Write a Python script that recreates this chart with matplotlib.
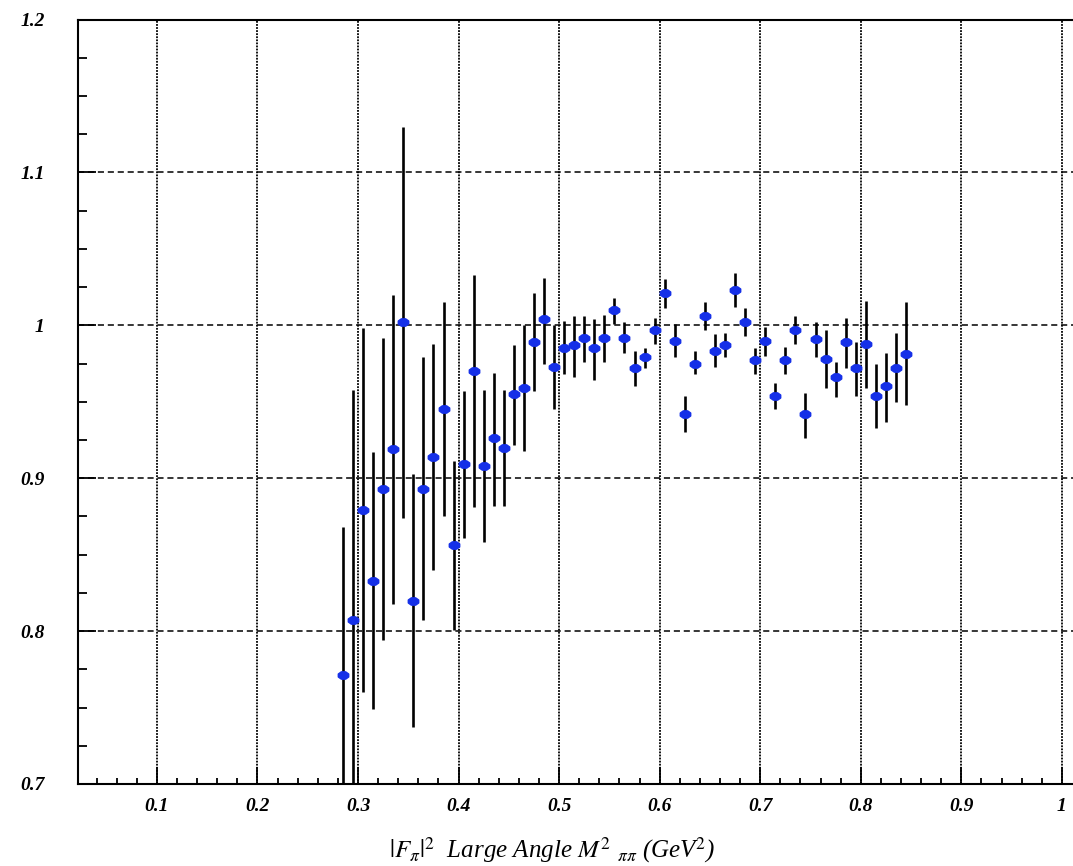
import numpy as np
import matplotlib
matplotlib.use("Agg")
import matplotlib.pyplot as plt
from matplotlib.path import Path
from matplotlib.ticker import MultipleLocator, FixedLocator

plt.rcParams["mathtext.fontset"] = "stix"

# ---- data ----
x = [0.285 + 0.01 * i for i in range(57)]
y = [0.771, 0.807, 0.879, 0.833, 0.893, 0.919, 1.002, 0.820, 0.893, 0.914,
     0.945, 0.856, 0.909, 0.970, 0.908, 0.926, 0.920, 0.955, 0.959, 0.989,
     1.004, 0.973, 0.985, 0.987, 0.992, 0.985, 0.992, 1.010, 0.992, 0.972,
     0.979, 0.997, 1.021, 0.990, 0.942, 0.975, 1.006, 0.983, 0.987, 1.023,
     1.002, 0.977, 0.990, 0.954, 0.977, 0.997, 0.942, 0.991, 0.978, 0.966,
     0.989, 0.972, 0.988, 0.954, 0.960, 0.972, 0.981]
y_hi = [0.868, 0.958, 0.998, 0.917, 0.992, 1.020, 1.130, 0.903, 0.979, 0.988,
        1.015, 0.911, 0.957, 1.033, 0.958, 0.969, 0.958, 0.987, 1.000, 1.021,
        1.031, 1.000, 1.003, 1.006, 1.006, 1.004, 1.007, 1.018, 1.002, 0.983,
        0.985, 1.005, 1.030, 1.001, 0.954, 0.983, 1.015, 0.994, 0.995, 1.034,
        1.011, 0.985, 0.999, 0.962, 0.986, 1.006, 0.956, 1.002, 0.997, 0.976,
        1.005, 0.989, 1.016, 0.975, 0.982, 0.995, 1.015]
y_lo = [0.674, 0.656, 0.760, 0.749, 0.794, 0.818, 0.874, 0.737, 0.807, 0.840,
        0.875, 0.801, 0.861, 0.881, 0.858, 0.882, 0.882, 0.922, 0.918, 0.957,
        0.975, 0.945, 0.968, 0.966, 0.976, 0.964, 0.976, 1.001, 0.982, 0.960,
        0.972, 0.988, 1.011, 0.979, 0.930, 0.968, 0.997, 0.973, 0.979, 1.012,
        0.993, 0.968, 0.980, 0.945, 0.968, 0.988, 0.926, 0.979, 0.959, 0.953,
        0.972, 0.954, 0.959, 0.933, 0.937, 0.950, 0.948]

x_ticks = [0.1, 0.2, 0.3, 0.4, 0.5, 0.6, 0.7, 0.8, 0.9, 1.0]
x_labels = ["0.1", "0.2", "0.3", "0.4", "0.5", "0.6", "0.7", "0.8", "0.9", "1"]
y_ticks = [0.7, 0.8, 0.9, 1.0, 1.1, 1.2]
y_labels = ["0.7", "0.8", "0.9", "1", "1.1", "1.2"]

# ---- figure ----
W, H = 1073, 866
fig = plt.figure(figsize=(W / 100, H / 100), dpi=100)
left, right, bottom, top = 78, 1082, 784, 19.5
ax = fig.add_axes([left / W, (H - bottom) / H, (right - left) / W, (bottom - top) / H])
ax.set_xlim(0.0215, 1.02)
ax.set_ylim(0.7, 1.2)

# grid lines
for xv in x_ticks:
    ax.axvline(xv, color="black", lw=1.3, ls=(0, (1.0, 0.7)), zorder=1)
for yv in y_ticks[1:-1]:
    ax.axhline(yv, color="black", lw=1.1, ls=(0, (4, 2.5)), zorder=1)

# marker: wide lozenge
t = np.linspace(0, 2 * np.pi, 9)[:-1] + np.pi / 8
verts = np.column_stack([np.cos(t), 0.7 * np.sin(t)])
verts = np.vstack([verts, verts[0]])
codes = [Path.MOVETO] + [Path.LINETO] * 7 + [Path.CLOSEPOLY]
mk = Path(verts, codes)

yarr = np.array(y)
yerr = np.vstack([yarr - np.array(y_lo), np.array(y_hi) - yarr])
ax.errorbar(x, y, yerr=yerr, fmt="none", ecolor="black", elinewidth=1.9,
            capsize=0, zorder=3)
ax.plot(x, y, linestyle="none", marker=mk, markersize=7.5,
        markerfacecolor="#1530e8", markeredgecolor="#1530e8", zorder=4)

# ticks
ax.xaxis.set_major_locator(FixedLocator(x_ticks))
ax.xaxis.set_minor_locator(MultipleLocator(0.02))
ax.yaxis.set_major_locator(FixedLocator(y_ticks))
ax.yaxis.set_minor_locator(MultipleLocator(0.025))
ax.set_xticklabels(x_labels)
ax.set_yticklabels(y_labels)
ax.tick_params(axis="x", which="major", direction="in", length=12, width=1.3,
               pad=10, top=False)
ax.tick_params(axis="x", which="minor", direction="in", length=4.5, width=1.3,
               top=False)
ax.tick_params(axis="y", which="major", direction="in", length=13, width=1.3,
               pad=24, right=False)
ax.tick_params(axis="y", which="minor", direction="in", length=6.5, width=1.3,
               right=False)
for lab in ax.get_xticklabels() + ax.get_yticklabels():
    lab.set_fontfamily("Liberation Serif")
    lab.set_fontstyle("italic")
    lab.set_fontweight("bold")
    lab.set_fontsize(14)

for s in ax.spines.values():
    s.set_linewidth(1.5)
    s.set_color("black")

fig.text(552 / W, (H - 850) / H,
         r"$|F_\pi|^2$  Large Angle $M^2$ $_{\pi\pi}$ (GeV$^2$)",
         ha="center", va="center", fontsize=18, fontstyle="italic",
         fontfamily="Liberation Serif")

fig.savefig("out.png", dpi=100)
